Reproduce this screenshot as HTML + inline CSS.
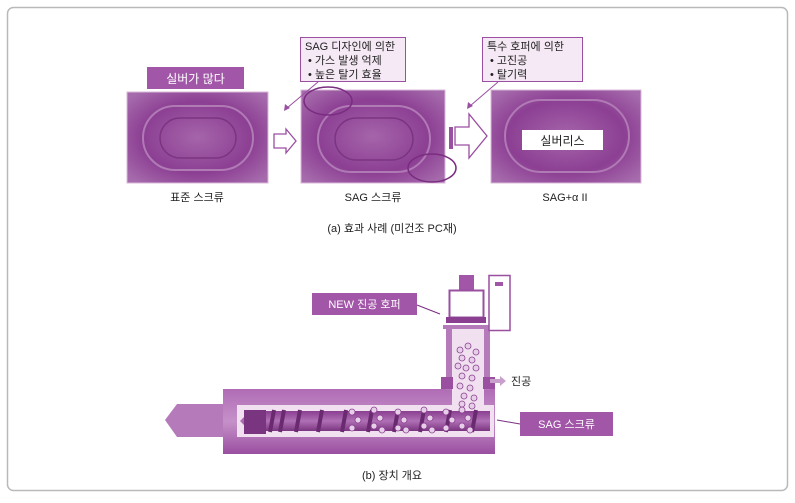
<!DOCTYPE html>
<html><head><meta charset="utf-8"><style>
body{margin:0;background:#fff;width:795px;height:498px;overflow:hidden}
text{font-family:"Liberation Sans","Noto Sans CJK KR",sans-serif}
</style></head><body>
<svg width="795" height="498" viewBox="0 0 795 498">
<defs>
<radialGradient id="ph" cx="50%" cy="50%" r="65%"><stop offset="0" stop-color="#a565aa"/><stop offset="0.6" stop-color="#8c3f93"/><stop offset="1" stop-color="#a66bac"/></radialGradient>
<linearGradient id="bar" x1="0" y1="0" x2="0" y2="1"><stop offset="0" stop-color="#b06cb5"/><stop offset="0.5" stop-color="#c591c9"/><stop offset="1" stop-color="#9a4fa0"/></linearGradient>
<linearGradient id="scr" x1="0" y1="0" x2="0" y2="1"><stop offset="0" stop-color="#8a3f90"/><stop offset="0.5" stop-color="#b070b5"/><stop offset="1" stop-color="#7a3580"/></linearGradient>
</defs>
<rect x="7.5" y="7.5" width="780" height="483" rx="6" fill="#fff" stroke="#b9b9b9" stroke-width="1.5"/>
<g>
<rect x="127" y="92" width="141" height="91" fill="url(#ph)" stroke="#d8b8da"/>
<rect x="143" y="106" width="110" height="64" rx="32" fill="none" stroke="#b07ab5" stroke-width="2"/>
<rect x="160" y="118" width="76" height="40" rx="20" fill="none" stroke="#7a3580" stroke-width="1.5"/>
<rect x="301" y="90" width="144" height="93" fill="url(#ph)" stroke="#d8b8da"/>
<rect x="318" y="106" width="112" height="66" rx="33" fill="none" stroke="#b07ab5" stroke-width="2"/>
<rect x="335" y="118" width="78" height="42" rx="21" fill="none" stroke="#7a3580" stroke-width="1.5"/>
<rect x="491" y="90" width="150" height="93" fill="url(#ph)" stroke="#d8b8da"/>
<rect x="505" y="100" width="124" height="72" rx="36" fill="none" stroke="#b07ab5" stroke-width="2"/>
</g>
<ellipse cx="328" cy="101" rx="24" ry="14" fill="none" stroke="#7a2d80" stroke-width="1.5"/>
<ellipse cx="432" cy="168" rx="24" ry="14" fill="none" stroke="#7a2d80" stroke-width="1.5"/>
<rect x="147" y="67" width="97" height="22" fill="#a256a8"/>
<text x="195.5" y="83" font-size="12" fill="#fff" text-anchor="middle">실버가 많다</text>
<rect x="522" y="130" width="81" height="20" fill="#fff"/>
<text x="562.5" y="145" font-size="12" fill="#222" text-anchor="middle">실버리스</text>
<rect x="300.5" y="37.5" width="105" height="44" fill="#f5e9f5" stroke="#9a4fa0"/>
<text x="305" y="50" font-size="11" fill="#222">SAG 디자인에 의한</text>
<text x="308" y="64" font-size="11" fill="#222">• 가스 발생 억제</text>
<text x="308" y="78" font-size="11" fill="#222">• 높은 탈기 효율</text>
<line x1="318" y1="82" x2="287" y2="108" stroke="#9a4fa0"/><path d="M284,111 l1,-7 l5,4z" fill="#9a4fa0"/>
<rect x="482.5" y="37.5" width="100" height="44" fill="#f5e9f5" stroke="#9a4fa0"/>
<text x="487" y="50" font-size="11" fill="#222">특수 호퍼에 의한</text>
<text x="490" y="64" font-size="11" fill="#222">• 고진공</text>
<text x="490" y="78" font-size="11" fill="#222">• 탈기력</text>
<line x1="498" y1="82" x2="470" y2="106" stroke="#9a4fa0"/><path d="M467,109 l1,-7 l5,4z" fill="#9a4fa0"/>
<path d="M274,134 h12 v-5 l10,12 l-10,12 v-5 h-12z" fill="#fff" stroke="#9a4fa0" stroke-width="1.3"/>
<rect x="449" y="127" width="4" height="22" fill="#9a4fa0"/>
<path d="M455,127 h14 v-13 l18,22 l-18,22 v-13 h-14z" fill="#fff" stroke="#9a4fa0" stroke-width="1.3"/>
<text x="197" y="201" font-size="11" fill="#222" text-anchor="middle">표준 스크류</text>
<text x="373" y="201" font-size="11" fill="#222" text-anchor="middle">SAG 스크류</text>
<text x="565" y="201" font-size="11" fill="#222" text-anchor="middle">SAG+α II</text>
<text x="392" y="232" font-size="11" fill="#222" text-anchor="middle">(a) 효과 사례 (미건조 PC재)</text>
<path d="M165,420 l12,-16 h46 v33 h-46z" fill="#b57ab9"/>
<rect x="223" y="389" width="272" height="65" fill="url(#bar)"/>
<rect x="237" y="405" width="257" height="32" fill="#f0e0f0"/>
<rect x="446" y="328" width="44" height="62" fill="#b57ab9"/>
<rect x="452" y="328" width="32" height="100" fill="#f0e0f0"/>
<rect x="441" y="377" width="12" height="12" fill="#9a4fa0"/><rect x="483" y="377" width="12" height="12" fill="#9a4fa0"/>
<path d="M240,421 l10,-10 h240 v20 h-240z" fill="url(#scr)"/>
<rect x="244" y="410" width="22" height="24" fill="#7a3580"/>
<g stroke="#6a2a70" stroke-width="4">
<line x1="270" y1="432" x2="274" y2="410"/><line x1="280" y1="432" x2="284" y2="410"/><line x1="296" y1="432" x2="300" y2="410"/><line x1="318" y1="432" x2="322" y2="410"/><line x1="342" y1="432" x2="346" y2="410"/><line x1="368" y1="432" x2="372" y2="410"/><line x1="394" y1="432" x2="398" y2="410"/><line x1="420" y1="432" x2="424" y2="410"/><line x1="446" y1="432" x2="450" y2="410"/><line x1="472" y1="432" x2="476" y2="410"/></g>
<g fill="#e8cfe9" stroke="#8a4090" stroke-width="0.8">
<circle cx="352" cy="412" r="3"/><circle cx="358" cy="420" r="3"/><circle cx="352" cy="428" r="3"/>
<circle cx="374" cy="410" r="3"/><circle cx="380" cy="418" r="3"/><circle cx="374" cy="426" r="3"/><circle cx="382" cy="430" r="3"/>
<circle cx="398" cy="412" r="3"/><circle cx="404" cy="420" r="3"/><circle cx="398" cy="428" r="3"/><circle cx="406" cy="430" r="3"/>
<circle cx="424" cy="410" r="3"/><circle cx="430" cy="418" r="3"/><circle cx="424" cy="426" r="3"/><circle cx="432" cy="430" r="3"/>
<circle cx="446" cy="412" r="3"/><circle cx="452" cy="420" r="3"/><circle cx="446" cy="428" r="3"/>
<circle cx="462" cy="410" r="3"/><circle cx="468" cy="418" r="3"/><circle cx="462" cy="426" r="3"/><circle cx="470" cy="430" r="3"/>
<circle cx="460" cy="350" r="3"/><circle cx="468" cy="346" r="3"/><circle cx="476" cy="352" r="3"/><circle cx="462" cy="358" r="3"/><circle cx="472" cy="360" r="3"/>
<circle cx="458" cy="366" r="3"/><circle cx="466" cy="368" r="3"/><circle cx="476" cy="368" r="3"/><circle cx="462" cy="376" r="3"/><circle cx="472" cy="378" r="3"/>
<circle cx="460" cy="386" r="3"/><circle cx="470" cy="388" r="3"/><circle cx="464" cy="396" r="3"/><circle cx="474" cy="398" r="3"/><circle cx="462" cy="404" r="3"/><circle cx="472" cy="406" r="3"/>
</g>
<rect x="459" y="275" width="15" height="15" fill="#a256a8"/>
<rect x="449.5" y="290.5" width="34" height="27" fill="#fff" stroke="#9a4fa0" stroke-width="2"/>
<rect x="446" y="317" width="40" height="6" fill="#8a3f90"/>
<rect x="443" y="325" width="49" height="4" fill="#b57ab9"/>
<rect x="489" y="275.5" width="21" height="55" fill="#fff" stroke="#9a4fa0" stroke-width="1.5"/>
<rect x="495" y="282" width="8" height="4" fill="#a256a8"/>
<path d="M490,379 h10 v-3 l6,5 l-6,5 v-3 h-10z" fill="#c9a0cc"/>
<text x="511" y="385" font-size="11" fill="#222">진공</text>
<rect x="312" y="293" width="105" height="22" fill="#a256a8"/>
<text x="364.5" y="308" font-size="11" fill="#fff" text-anchor="middle">NEW 진공 호퍼</text>
<line x1="417" y1="305" x2="440" y2="314" stroke="#7a2d80"/>
<rect x="520" y="412" width="93" height="24" fill="#a256a8"/>
<text x="566.5" y="428" font-size="11" fill="#fff" text-anchor="middle">SAG 스크류</text>
<line x1="520" y1="424" x2="497" y2="420" stroke="#7a2d80"/>
<text x="392" y="479" font-size="11" fill="#222" text-anchor="middle">(b) 장치 개요</text>
</svg>
</body></html>
